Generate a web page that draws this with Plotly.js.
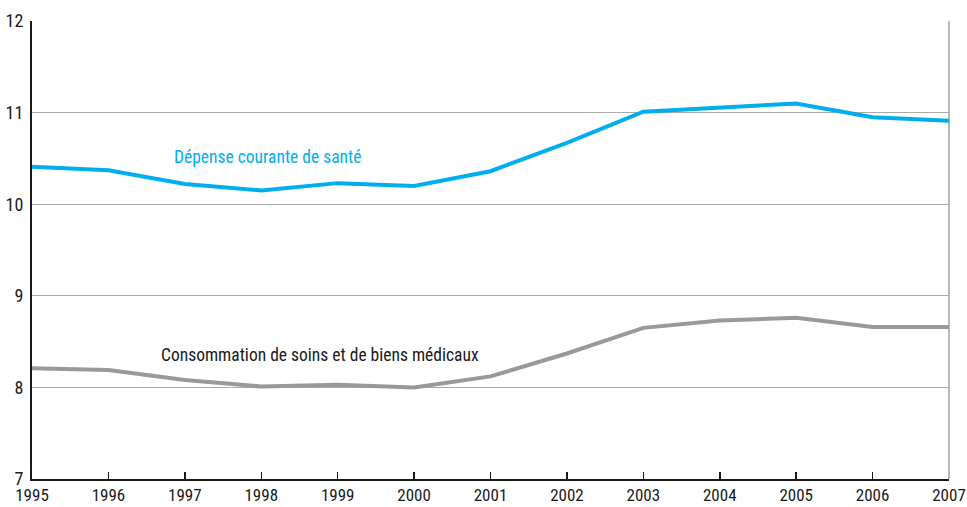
<!DOCTYPE html>
<html>
<head>
<meta charset="utf-8">
<script src="https://cdn.plot.ly/plotly-3.0.1.min.js"></script>
<style>html,body{margin:0;padding:0;background:#fff;}#chart{width:967px;height:507px;}</style>
</head>
<body>
<div id="chart"></div>
<script>
const years = [1995,1996,1997,1998,1999,2000,2001,2002,2003,2004,2005,2006,2007];
const depenseCourante = [10.41,10.37,10.22,10.15,10.23,10.20,10.36,10.67,11.01,11.05,11.10,10.95,10.91];
const consommationSoins = [8.21,8.19,8.08,8.01,8.03,8.00,8.12,8.37,8.65,8.73,8.76,8.66,8.66];
const seriesNames = ["Dépense courante de santé","Consommation de soins et de biens médicaux"];
const yTicks = [7,8,9,10,11,12];

const FONT = '"Liberation Sans Narrow", "Arial Narrow", "Roboto Condensed", "Liberation Sans", sans-serif';

const traces = [
  {x: years, y: depenseCourante, name: seriesNames[0], type: 'scatter', mode: 'lines',
   line: {color: '#00AEEF', width: 4}, hoverinfo: 'x+y'},
  {x: years, y: consommationSoins, name: seriesNames[1], type: 'scatter', mode: 'lines',
   line: {color: '#999999', width: 4}, hoverinfo: 'x+y'}
];

const layout = {
  width: 967, height: 507,
  margin: {l: 32, r: 18, t: 21, b: 28},
  paper_bgcolor: '#fff', plot_bgcolor: '#fff',
  showlegend: false,
  font: {family: FONT, size: 17, color: '#1a1a1a'},
  xaxis: {
    range: [1995, 2007], tickvals: years, ticktext: years.map(String),
    showgrid: false, zeroline: false,
    showline: true, linecolor: '#1a1a1a', linewidth: 2,
    ticks: 'inside', ticklen: 7, tickcolor: '#1a1a1a', tickwidth: 1.5,
    ticklabelstandoff: 0,
    tickfont: {family: FONT, size: 17, color: '#1a1a1a'}
  },
  yaxis: {
    range: [7, 12], tickvals: yTicks, ticktext: yTicks.map(String),
    showgrid: true, gridcolor: '#aaaaaa', gridwidth: 1, zeroline: false,
    showline: true, linecolor: '#1a1a1a', linewidth: 2,
    ticks: '', ticklabelstandoff: 3,
    tickfont: {family: FONT, size: 18, color: '#1a1a1a'}
  },
  shapes: [
    {type: 'line', xref: 'paper', yref: 'paper', x0: 1, x1: 1, y0: 0, y1: 1,
     line: {color: '#a0a0a0', width: 1.5}, layer: 'below'}
  ],
  annotations: [
    {x: 1998.08, y: 10.52, xref: 'x', yref: 'y', text: seriesNames[0], showarrow: false,
     font: {family: FONT, size: 17.5, color: '#00AEEF'}},
    {x: 1998.77, y: 8.35, xref: 'x', yref: 'y', text: seriesNames[1], showarrow: false,
     font: {family: FONT, size: 17.5, color: '#1a1a1a'}}
  ]
};

Plotly.newPlot('chart', traces, layout, {displayModeBar: false, staticPlot: true});
</script>
</body>
</html>
